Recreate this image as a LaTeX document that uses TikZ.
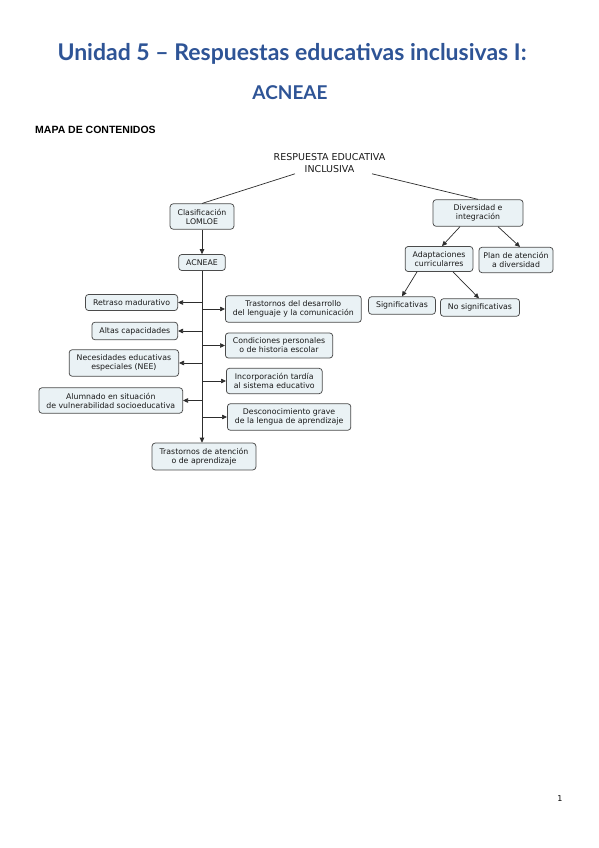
\documentclass[tikz,border=0pt]{standalone}
\usepackage{fontspec}
\setmainfont{DejaVu Sans}
\newfontfamily\titulofont{Lato}
\newfontfamily\mapafont{Liberation Sans}
\usetikzlibrary{arrows.meta}

\definecolor{azultitulo}{RGB}{46,84,150}
\definecolor{relleno}{RGB}{234,242,245}
\definecolor{borde}{RGB}{75,75,75}
\definecolor{linea}{RGB}{45,45,45}
\definecolor{texto}{RGB}{25,25,25}

\tikzset{
    titulo/.style={text=azultitulo, font=\titulofont\bfseries\fontsize{23}{27}\selectfont, inner sep=0pt},
    raiz/.style={align=center, text=texto, inner sep=1pt, font=\fontsize{9.5}{12}\selectfont},
    concepto/.style={draw=borde, fill=relleno, rounded corners=3pt, line width=0.75pt,
        align=center, text=texto, inner xsep=7.5pt, inner ysep=5pt,
        font=\fontsize{7.8}{9}\selectfont},
    enlace/.style={draw=linea, line width=0.7pt},
    flecha/.style={enlace, -{Triangle[length=5pt,width=4.5pt]}}
}

\begin{document}
\begin{tikzpicture}[x=1pt, y=-1pt]
        \useasboundingbox[fill=white] (0, 0) rectangle (599, 848);

        \node[titulo] (tit1) at (292, 54) {Unidad 5 – Respuestas educativas inclusivas I:};
        \node[titulo, font=\titulofont\bfseries\fontsize{19}{23}\selectfont] (tit2) at (290, 93) {ACNEAE};
        \node[anchor=west, inner sep=0pt, font=\mapafont\bfseries\fontsize{10.5}{12}\selectfont] (mapa) at (35, 130) {MAPA DE CONTENIDOS};

        \node[raiz] (resp) at (329.5, 163) {RESPUESTA EDUCATIVA\\INCLUSIVA};

        \node[concepto] (clas) at (202, 216.5) {Clasificación\\LOMLOE};
        \node[concepto] (acneae) at (202, 262.5) {ACNEAE};
        \draw[enlace] ([xshift=-34.5pt]resp.south) -- (clas.north);
        \draw[flecha] (clas) -- (acneae);

        \node[concepto, minimum width=90pt] (div) at (478, 213) {Diversidad e\\integración};
        \node[concepto] (adap) at (439, 259) {Adaptaciones\\curricularres};
        \node[concepto, inner xsep=4.5pt] (plan) at (516, 260) {Plan de atención\\a diversidad};
        \node[concepto] (sig) at (402, 305.5) {Significativas};
        \node[concepto] (nosig) at (480, 307.5) {No significativas};
        \draw[enlace] ([xshift=42.5pt]resp.south) -- (div.north);
        \draw[flecha] ([xshift=-18pt]div.south) -- ([xshift=3pt]adap.north);
        \draw[flecha] ([xshift=20pt]div.south) -- ([xshift=4pt]plan.north);
        \draw[flecha] ([xshift=-22pt]adap.south) -- (sig.north);
        \draw[flecha] ([xshift=14pt]adap.south) -- ([xshift=-1pt]nosig.north);

        % grupos de ACNEAE
        \node[concepto, anchor=east] (retraso) at (178, 302.5) {Retraso madurativo};
        \node[concepto, anchor=east] (altas) at (178, 331) {Altas capacidades};
        \node[concepto, anchor=east] (nee) at (179, 363) {Necesidades educativas\\especiales (NEE)};
        \node[concepto, anchor=east] (alum) at (183, 400.5) {Alumnado en situación\\de vulnerabilidad socioeducativa};

        \node[concepto, anchor=west] (tdes) at (225, 309) {Trastornos del desarrollo\\del lenguaje y la comunicación};
        \node[concepto, anchor=west] (cond) at (225, 345.5) {Condiciones personales\\o de historia escolar};
        \node[concepto, anchor=west] (inc) at (226, 381) {Incorporación tardía\\al sistema educativo};
        \node[concepto, anchor=west] (desc) at (227, 417) {Desconocimiento grave\\de la lengua de aprendizaje};

        \node[concepto] (tat) at (204, 456.5) {Trastornos de atención\\o de aprendizaje};

        \draw[flecha] (acneae.south) -- (acneae.south |- tat.north);
        \draw[flecha] (acneae.south |- retraso.east) -- (retraso.east);
        \draw[flecha] (acneae.south |- altas.east) -- (altas.east);
        \draw[flecha] (acneae.south |- nee.east) -- (nee.east);
        \draw[flecha] (acneae.south |- alum.east) -- (alum.east);
        \draw[flecha] (acneae.south |- tdes.west) -- (tdes.west);
        \draw[flecha] (acneae.south |- cond.west) -- (cond.west);
        \draw[flecha] (acneae.south |- inc.west) -- (inc.west);
        \draw[flecha] (acneae.south |- desc.west) -- (desc.west);

        \node[font=\fontsize{8}{9}\selectfont] (pag) at (560, 799) {1};
    \end{tikzpicture}
\end{document}
